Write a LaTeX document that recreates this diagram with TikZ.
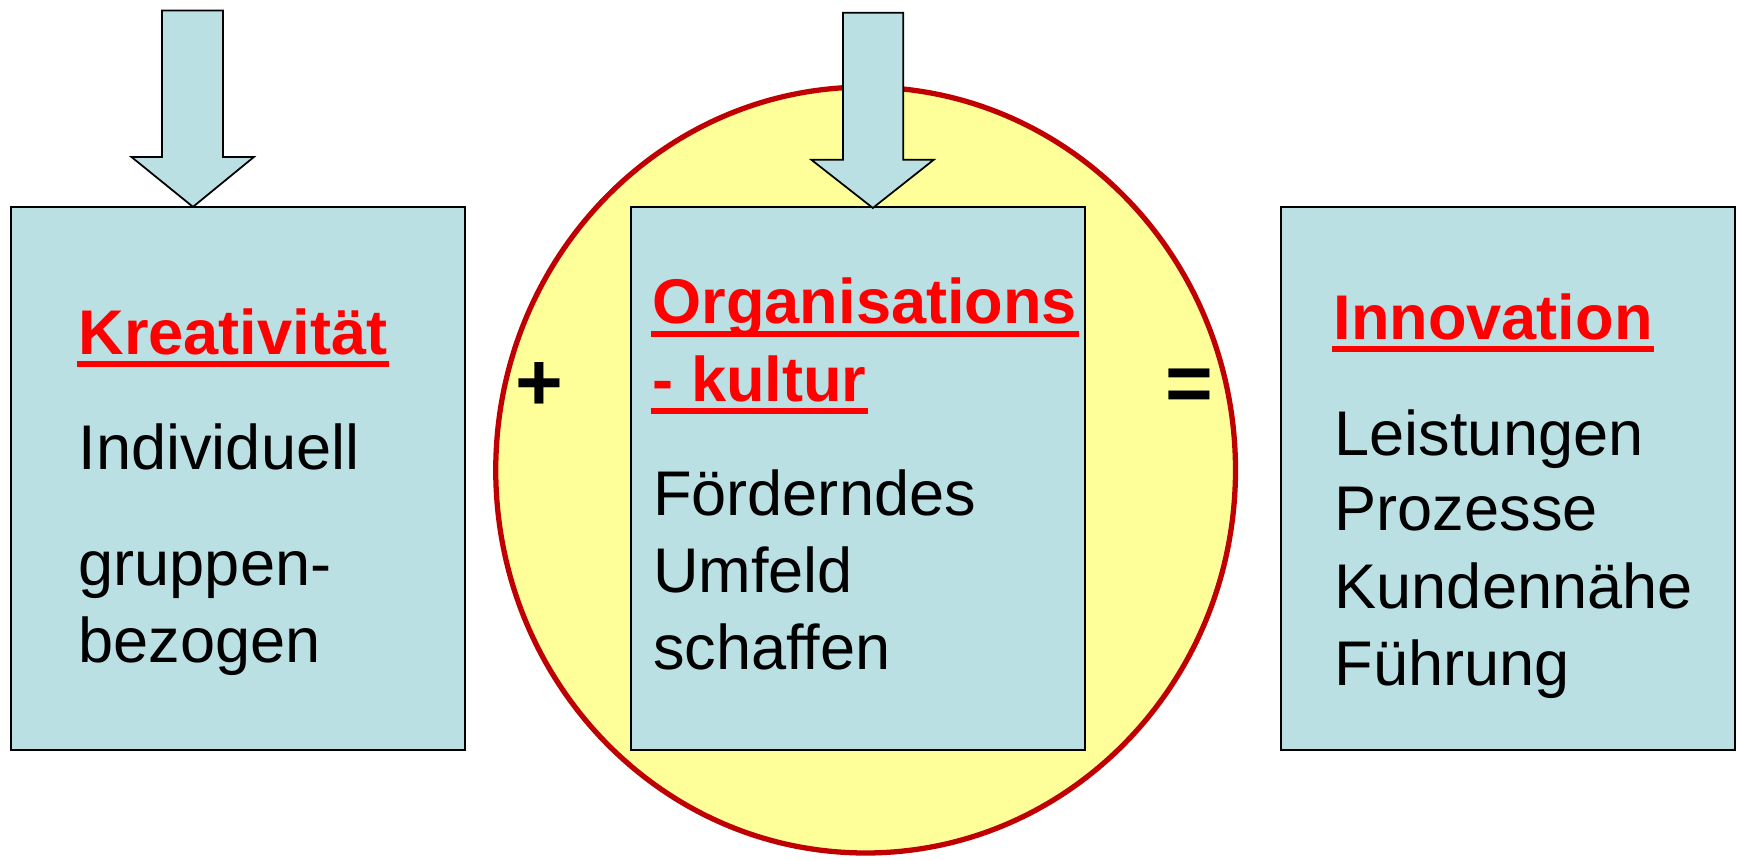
\documentclass[tikz,border=0pt]{standalone}
\usepackage{fontspec}
\setmainfont{Liberation Sans}
\usetikzlibrary{calc}
\definecolor{boxblue}{HTML}{BBE0E3}
\definecolor{ovalyellow}{HTML}{FFFF99}
\definecolor{ovalred}{HTML}{C00000}
\definecolor{headred}{HTML}{FF0000}
\tikzset{
  panel/.style={draw=black, line width=0.9pt, fill=boxblue},
  blockarrow/.style={draw=black, line width=0.9pt, fill=boxblue},
  bodytext/.style={inner sep=0pt, anchor=base west, font=\fontsize{32.4pt}{39.3pt}\selectfont},
  headtext/.style={inner sep=0pt, anchor=base west, text=headred, font=\fontsize{32.4pt}{39.3pt}\selectfont\bfseries},
  headline/.style={draw=headred, line width=3.0pt},
  opsign/.style={inner sep=0pt, anchor=base, font=\fontsize{42pt}{48pt}\selectfont\bfseries}
}
\begin{document}
\begin{tikzpicture}[x=0.02cm, y=-0.02cm]
\useasboundingbox (0,0) rectangle (1568,775);
% oval
\draw[ovalred, line width=0.095cm, fill=ovalyellow] (780.5,423.8) ellipse [x radius=333.5, y radius=345.3];
% panels
\draw[panel] (10,186.5) rectangle (419.5,676.5);
\draw[panel] (569,186.5) rectangle (978,676.5);
\draw[panel] (1155,186.5) rectangle (1564.5,676.5);
\coordinate (tipA) at (174,186.5);
\coordinate (tipB) at (787,187.5);
% block arrows
\draw[blockarrow] (146,9.5) -- (201,9.5) -- (201,141.5) -- (229,141.5) -- (tipA) -- (118.5,141.5) -- (146,141.5) -- cycle;
\draw[blockarrow] (760,11.5) -- (814.5,11.5) -- (814.5,144) -- (842,144) -- (tipB) -- (731.5,144) -- (760,144) -- cycle;
% left texts
\node[headtext] (kre) at (70.5,320) {Kreativität};
\draw[headline] ($(kre.base west)+(-1.5,8)$) -- ($(kre.base east)+(1,8)$);
\node[bodytext] (ind) at (70.5,423) {Individuell};
\node[bodytext] (gru) at (70.5,528) {gruppen-};
\node[bodytext] (bez) at (70.5,597) {bezogen};
% middle texts
\node[headtext] (org) at (588,292) {Organisations};
\draw[headline] ($(org.base west)+(-1,9)$) -- ($(org.base east)+(1,9)$);
\node[headtext] (kul) at (588,362) {- kultur};
\draw[headline] ($(kul.base west)+(-1,8.5)$) -- ($(kul.base east)+(1,8.5)$);
\node[bodytext] (foe) at (588.5,465) {Förderndes};
\node[bodytext] (umf) at (588.5,534.5) {Umfeld};
\node[bodytext] (sch) at (588.5,603.5) {schaffen};
% right texts
\node[headtext] (inn) at (1202,306.5) {Innovation};
\draw[headline] ($(inn.base west)+(-1,8.5)$) -- ($(inn.base east)+(1,8.5)$);
\node[bodytext] (lei) at (1203,410.3) {Leistungen};
\node[bodytext] (pro) at (1203,478.5) {Prozesse};
\node[bodytext] (kun) at (1203,548.5) {Kundennähe};
\node[bodytext] (fue) at (1203,617.7) {Führung};
% operators
\node[opsign] (plus) at (486,370) {+};
\node[opsign] (eq) at (1072,371) {=};
\end{tikzpicture}
\end{document}
